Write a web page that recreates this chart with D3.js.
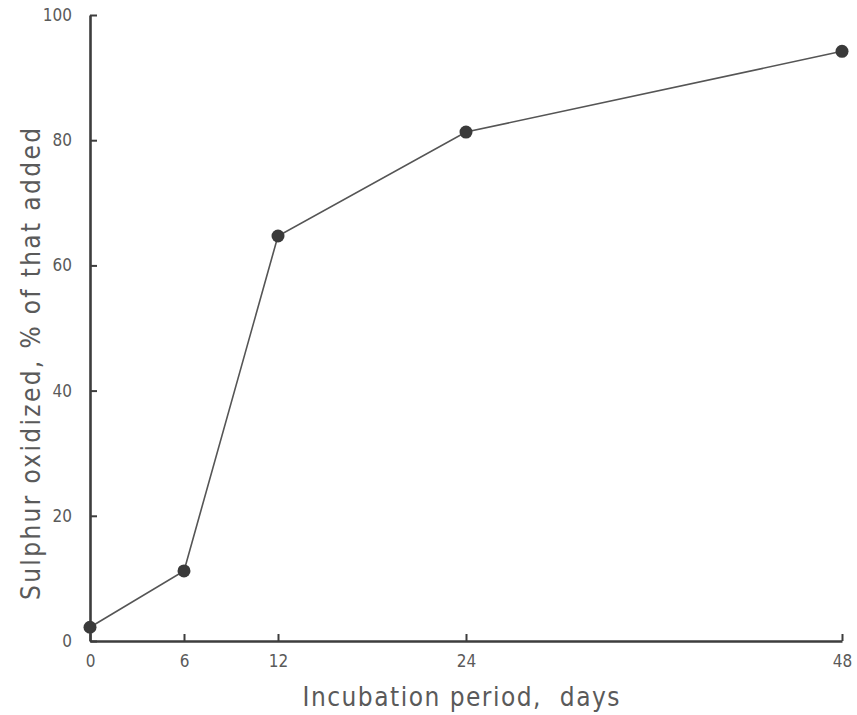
<!DOCTYPE html>
<html>
<head>
<meta charset="utf-8">
<script src="https://cdn.jsdelivr.net/npm/d3@7"></script>
<style>
  html, body { margin: 0; padding: 0; background: #fff; }
  svg text { font-family: "DejaVu Sans Condensed", "DejaVu Sans", sans-serif; fill: #5a5a5a; }
</style>
</head>
<body>
<svg id="chart" width="857" height="715"></svg>
<script>
// Incubation time (days) and share of added sulphur oxidized (%)
const days = [0, 6, 12, 24, 48];
const oxidized = [2.2, 11.2, 64.7, 81.3, 94.2];
const xTicks = [0, 6, 12, 24, 48];
const yTicks = [0, 20, 40, 60, 80, 100];
const xTitle = "Incubation period,\u00a0\u00a0days";
const yTitle = "Sulphur oxidized, % of that added";

const svg = d3.select("#chart");
const margin = { left: 90, right: 15, top: 15, bottom: 74 };
const W = 857, H = 715;

const x = d3.scaleLinear().domain([0, 48]).range([margin.left, W - margin.right]);
const y = d3.scaleLinear().domain([0, 100]).range([H - margin.bottom, margin.top]);

// axes: inward ticks, labels placed separately
const xAxis = svg.append("g")
  .attr("transform", `translate(0,${y(0)})`)
  .call(d3.axisBottom(x).tickValues(xTicks).tickSize(-7).tickSizeOuter(0).tickFormat(d3.format("d")));
xAxis.select(".domain").attr("stroke", "#3d3d3d").attr("stroke-width", 2.6);
xAxis.selectAll(".tick line").attr("stroke", "#3d3d3d").attr("stroke-width", 2);
xAxis.selectAll(".tick text").attr("y", 14).attr("font-size", 17);

const yAxis = svg.append("g")
  .attr("transform", `translate(${x(0)},0)`)
  .call(d3.axisLeft(y).tickValues(yTicks).tickSize(-7).tickSizeOuter(0).tickFormat(d3.format("d")));
yAxis.select(".domain").attr("stroke", "#3d3d3d").attr("stroke-width", 2.6);
yAxis.selectAll(".tick line").attr("stroke", "#3d3d3d").attr("stroke-width", 2);
yAxis.selectAll(".tick text").attr("x", -18).attr("font-size", 17);
svg.selectAll(".tick text").attr("fill", "#6a6a6a");

// data line
const line = d3.line().x((d, i) => x(days[i])).y(d => y(d));
svg.append("path")
  .datum(oxidized)
  .attr("d", line)
  .attr("fill", "none")
  .attr("stroke", "#555")
  .attr("stroke-width", 1.6);

svg.selectAll("circle.pt")
  .data(oxidized)
  .join("circle")
  .attr("class", "pt")
  .attr("cx", (d, i) => x(days[i]))
  .attr("cy", d => y(d))
  .attr("r", 6.5)
  .attr("fill", "#3a3a3a");

// axis titles
svg.append("text")
  .attr("x", 461)
  .attr("y", 706)
  .attr("text-anchor", "middle")
  .attr("font-size", 26)
  .attr("textLength", 317)
  .attr("lengthAdjust", "spacing")
  .text(xTitle);

svg.append("text")
  .attr("transform", `translate(40,364) rotate(-90)`)
  .attr("text-anchor", "middle")
  .attr("font-size", 26)
  .attr("textLength", 472)
  .attr("lengthAdjust", "spacing")
  .text(yTitle);
</script>
</body>
</html>
